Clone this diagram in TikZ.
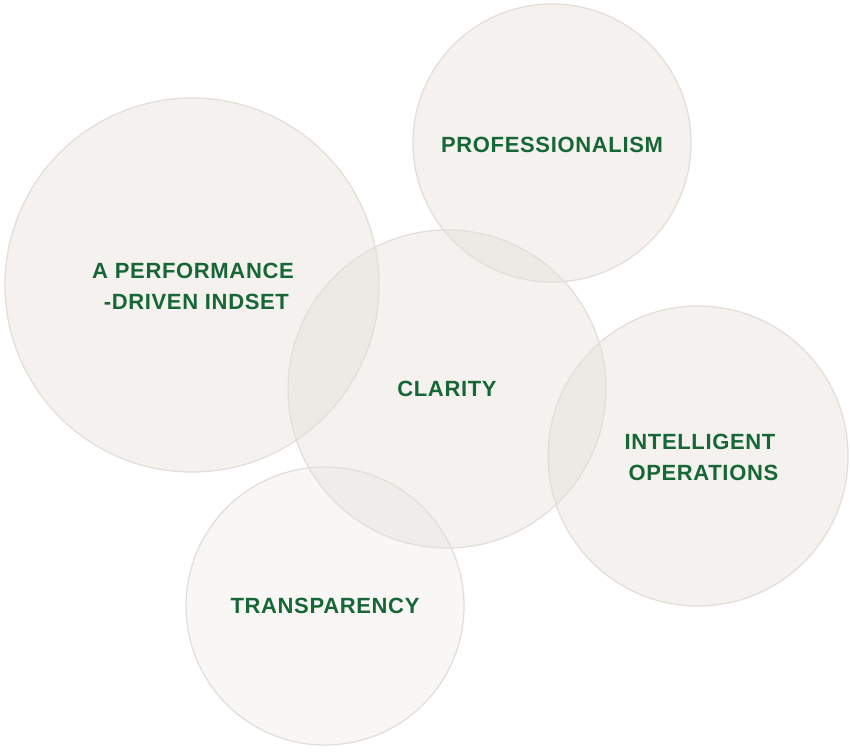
\documentclass[tikz,border=0pt]{standalone}
\usepackage{fontspec}
\setmainfont{Liberation Sans}
\definecolor{ringfill}{RGB}{228,222,216}
\definecolor{ringline}{RGB}{226,223,219}
\definecolor{wordgreen}{RGB}{22,102,54}
\tikzset{
  ring/.style={draw=ringline, line width=1.3pt, fill=ringfill, fill opacity=0.42},
  word/.style={font=\fontsize{22}{31}\selectfont\bfseries\addfontfeature{LetterSpace=3}, text=wordgreen, align=center, inner sep=0pt}
}
\begin{document}
\begin{tikzpicture}[x=1pt,y=-1pt]
\useasboundingbox (0,0) rectangle (850,752);
\coordinate (mind) at (192,285);
\coordinate (prof) at (552,143);
\coordinate (clar) at (447,389);
\coordinate (intel) at (698,456);
\coordinate (trans) at (325,606);
\filldraw[ring] (mind) circle (187);
\filldraw[ring] (prof) circle (139);
\filldraw[ring, fill opacity=0.25] (trans) circle (139);
\filldraw[ring] (clar) circle (159);
\filldraw[ring] (intel) circle (150);
\node[word] (tmind) at (193,286) {A PERFORMANCE\\\ -DRIVEN INDSET};
\node[word] (tprof) at (prof) [yshift=-2pt] {PROFESSIONALISM};
\node[word] (tclar) at (clar) {CLARITY};
\node[word] (tintel) at (700,457) {INTELLIGENT\\\ OPERATIONS};
\node[word] (ttrans) at (trans) {TRANSPARENCY};
\end{tikzpicture}
\end{document}
